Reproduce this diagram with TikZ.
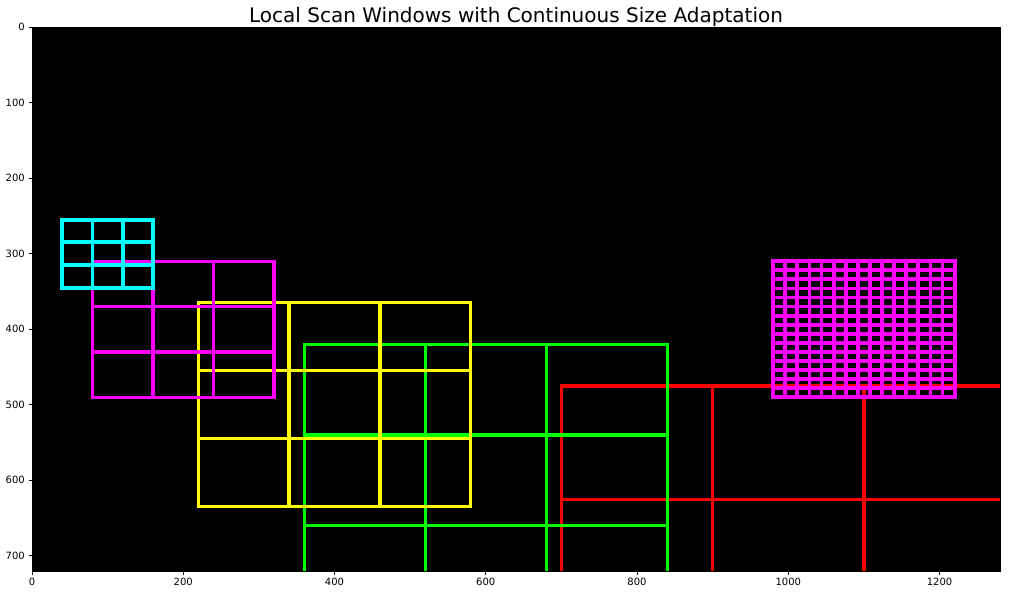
\documentclass[tikz,border=0pt]{standalone}
\usepackage{fontspec}
\setmainfont{DejaVu Sans}
\usepackage{xcolor}

\definecolor{winRed}{RGB}{255,0,0}
\definecolor{winGreen}{RGB}{0,255,0}
\definecolor{winYellow}{RGB}{255,255,0}
\definecolor{winMagenta}{RGB}{255,0,255}
\definecolor{winCyan}{RGB}{0,255,255}

% one scan window: style, x0, y0, columns, rows, cell width, cell height
\newcommand{\scanwin}[7]{%
  \foreach \i in {0,...,#4}
    \draw[#1] ({#2+\i*#6},#3) -- ({#2+\i*#6},{#3+#5*#7});
  \foreach \j in {0,...,#5}
    \draw[#1] (#2,{#3+\j*#7}) -- ({#2+#4*#6},{#3+\j*#7});
}

\tikzset{
  axtick/.style={black,line width=0.8pt,line cap=butt},
  ticklab/.style={inner sep=0pt,font=\fontsize{10}{12}\selectfont},
  winline/.style={line width=3.3pt,line cap=rect}
}

\begin{document}
\begin{tikzpicture}[x=1pt,y=-1pt]
\useasboundingbox (0,0) rectangle (1010,595);
\fill[white] (0,0) rectangle (1010,595);
\node[anchor=base,inner sep=0pt,font=\fontsize{20}{24}\selectfont] (title) at (516,22.5) {Local Scan Windows with Continuous Size Adaptation};
\fill[black] (32,27) rectangle (1000,571);

\begin{scope}[shift={(32pt,-27pt)},x=0.75625pt,y=-0.75556pt]
\begin{scope}
\clip (0,0) rectangle (1280,720);
\scanwin{winline,winRed}{700}{475}{3}{3}{200}{150}
\scanwin{winline,winGreen}{360}{420}{3}{3}{160}{120}
\scanwin{winline,winYellow}{220}{365}{3}{3}{120}{90}
\scanwin{winline,winMagenta}{80}{310}{3}{3}{80}{60}
\scanwin{winline,winCyan,line width=3.9pt}{40}{255}{3}{3}{40}{30}
\scanwin{winline,winMagenta,line width=3.8pt}{980}{310}{15}{15}{16}{12}
\end{scope}

% x axis
\draw[axtick] (0,720) -- ++(0pt,-3.5pt);
\node[ticklab,anchor=north] (x0) at ([yshift=-7pt]0,720) {0};
\draw[axtick] (200,720) -- ++(0pt,-3.5pt);
\node[ticklab,anchor=north] (x200) at ([yshift=-7pt]200,720) {200};
\draw[axtick] (400,720) -- ++(0pt,-3.5pt);
\node[ticklab,anchor=north] (x400) at ([yshift=-7pt]400,720) {400};
\draw[axtick] (600,720) -- ++(0pt,-3.5pt);
\node[ticklab,anchor=north] (x600) at ([yshift=-7pt]600,720) {600};
\draw[axtick] (800,720) -- ++(0pt,-3.5pt);
\node[ticklab,anchor=north] (x800) at ([yshift=-7pt]800,720) {800};
\draw[axtick] (1000,720) -- ++(0pt,-3.5pt);
\node[ticklab,anchor=north] (x1000) at ([yshift=-7pt]1000,720) {1000};
\draw[axtick] (1200,720) -- ++(0pt,-3.5pt);
\node[ticklab,anchor=north] (x1200) at ([yshift=-7pt]1200,720) {1200};

% y axis
\draw[axtick] (0,0) -- ++(-3.5pt,0pt);
\node[ticklab,anchor=east] (y0) at ([xshift=-7pt]0,0) {0};
\draw[axtick] (0,100) -- ++(-3.5pt,0pt);
\node[ticklab,anchor=east] (y100) at ([xshift=-7pt]0,100) {100};
\draw[axtick] (0,200) -- ++(-3.5pt,0pt);
\node[ticklab,anchor=east] (y200) at ([xshift=-7pt]0,200) {200};
\draw[axtick] (0,300) -- ++(-3.5pt,0pt);
\node[ticklab,anchor=east] (y300) at ([xshift=-7pt]0,300) {300};
\draw[axtick] (0,400) -- ++(-3.5pt,0pt);
\node[ticklab,anchor=east] (y400) at ([xshift=-7pt]0,400) {400};
\draw[axtick] (0,500) -- ++(-3.5pt,0pt);
\node[ticklab,anchor=east] (y500) at ([xshift=-7pt]0,500) {500};
\draw[axtick] (0,600) -- ++(-3.5pt,0pt);
\node[ticklab,anchor=east] (y600) at ([xshift=-7pt]0,600) {600};
\draw[axtick] (0,700) -- ++(-3.5pt,0pt);
\node[ticklab,anchor=east] (y700) at ([xshift=-7pt]0,700) {700};

\draw[black,line width=0.8pt] (0,0) rectangle (1280,720);
\end{scope}
\end{tikzpicture}
\end{document}
